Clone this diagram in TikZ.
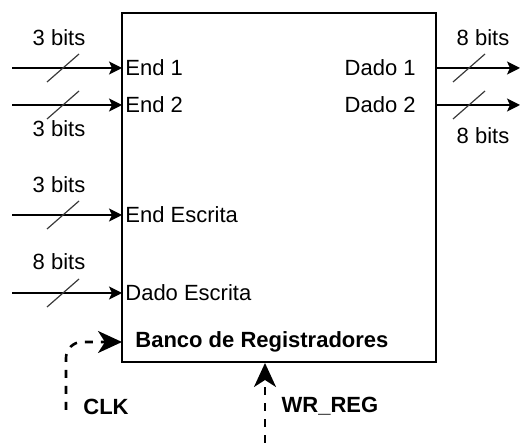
\documentclass[tikz,border=0pt]{standalone}
\usepackage{fontspec}
\setmainfont{Liberation Sans}
\usetikzlibrary{arrows.meta,positioning}
\definecolor{Ink}{HTML}{000000}
\definecolor{Slash}{HTML}{3A3A3A}
\tikzset{regbank/.style={draw=Ink,line width=0.7pt,minimum width=157pt,minimum height=174.5pt,inner sep=0pt},port/.style={inner sep=1.5pt,font=\fontsize{11}{13}\selectfont},buslabel/.style={inner sep=0pt,font=\fontsize{11}{13}\selectfont},ctrllabel/.style={inner sep=0pt,font=\fontsize{11}{13}\selectfont\bfseries},bus/.style={-{Stealth[length=6.5pt,width=6.5pt,inset=1.5pt]},line width=0.7pt,draw=Ink},ctrl/.style={-{Stealth[length=12pt,width=11pt,inset=3.5pt]},line width=1.3pt,dash pattern=on 4pt off 4pt,draw=Ink},tick/.style={draw=Slash,line width=0.6pt}}

\begin{document}
\begin{tikzpicture}[x=0.5pt,y=-0.5pt]
      \useasboundingbox (0,0) rectangle (520,443);
      \node[regbank](bank) at (279,187.5){};
      % inputs on the left side
      \foreach \y/\name/\txt in {68/a1/End 1,105/a2/End 2,215/aw/End Escrita,293/dw/Dado Escrita}{
        \coordinate(src\name) at (12,\y);
        \node[port,anchor=west](\name) at (122,\y){\txt};
        \draw[bus](src\name)--(\name.west);
        \draw[tick](47,\y+14)--(79,\y-14);
      }
      \node[buslabel](w1) at (59,38){3 bits};
      \node[buslabel](w2) at (59,129){3 bits};
      \node[buslabel](w3) at (59,185){3 bits};
      \node[buslabel](w4) at (59,262){8 bits};
      % outputs on the right side
      \foreach \y/\name/\txt in {68/d1/Dado 1,105/d2/Dado 2}{
        \node[port,anchor=east](\name) at (419,\y){\txt};
        \coordinate(out\name) at (436,\y);
        \coordinate(dst\name) at (520,\y);
        \draw[bus](out\name)--(dst\name);
        \draw[tick](453,\y+14)--(485,\y-14);
      }
      \node[buslabel](w5) at (483,38){8 bits};
      \node[buslabel](w6) at (483,136){8 bits};
      % control signals
      \node[ctrllabel,anchor=west](title) at (135,342){Banco de Registradores};
      \coordinate(clksrc) at (66,410);
      \coordinate(clkin) at (122,342);
      \draw[ctrl,rounded corners=8pt](clksrc)|-(clkin);
      \node[ctrllabel](clk) at (106,407){CLK};
      \coordinate(wrsrc) at (265,443);
      \coordinate(wrin) at (265,363);
      \draw[ctrl](wrsrc)--(wrin);
      \node[ctrllabel](wr) at (330,406){WR\_REG};
    \end{tikzpicture}
\end{document}
